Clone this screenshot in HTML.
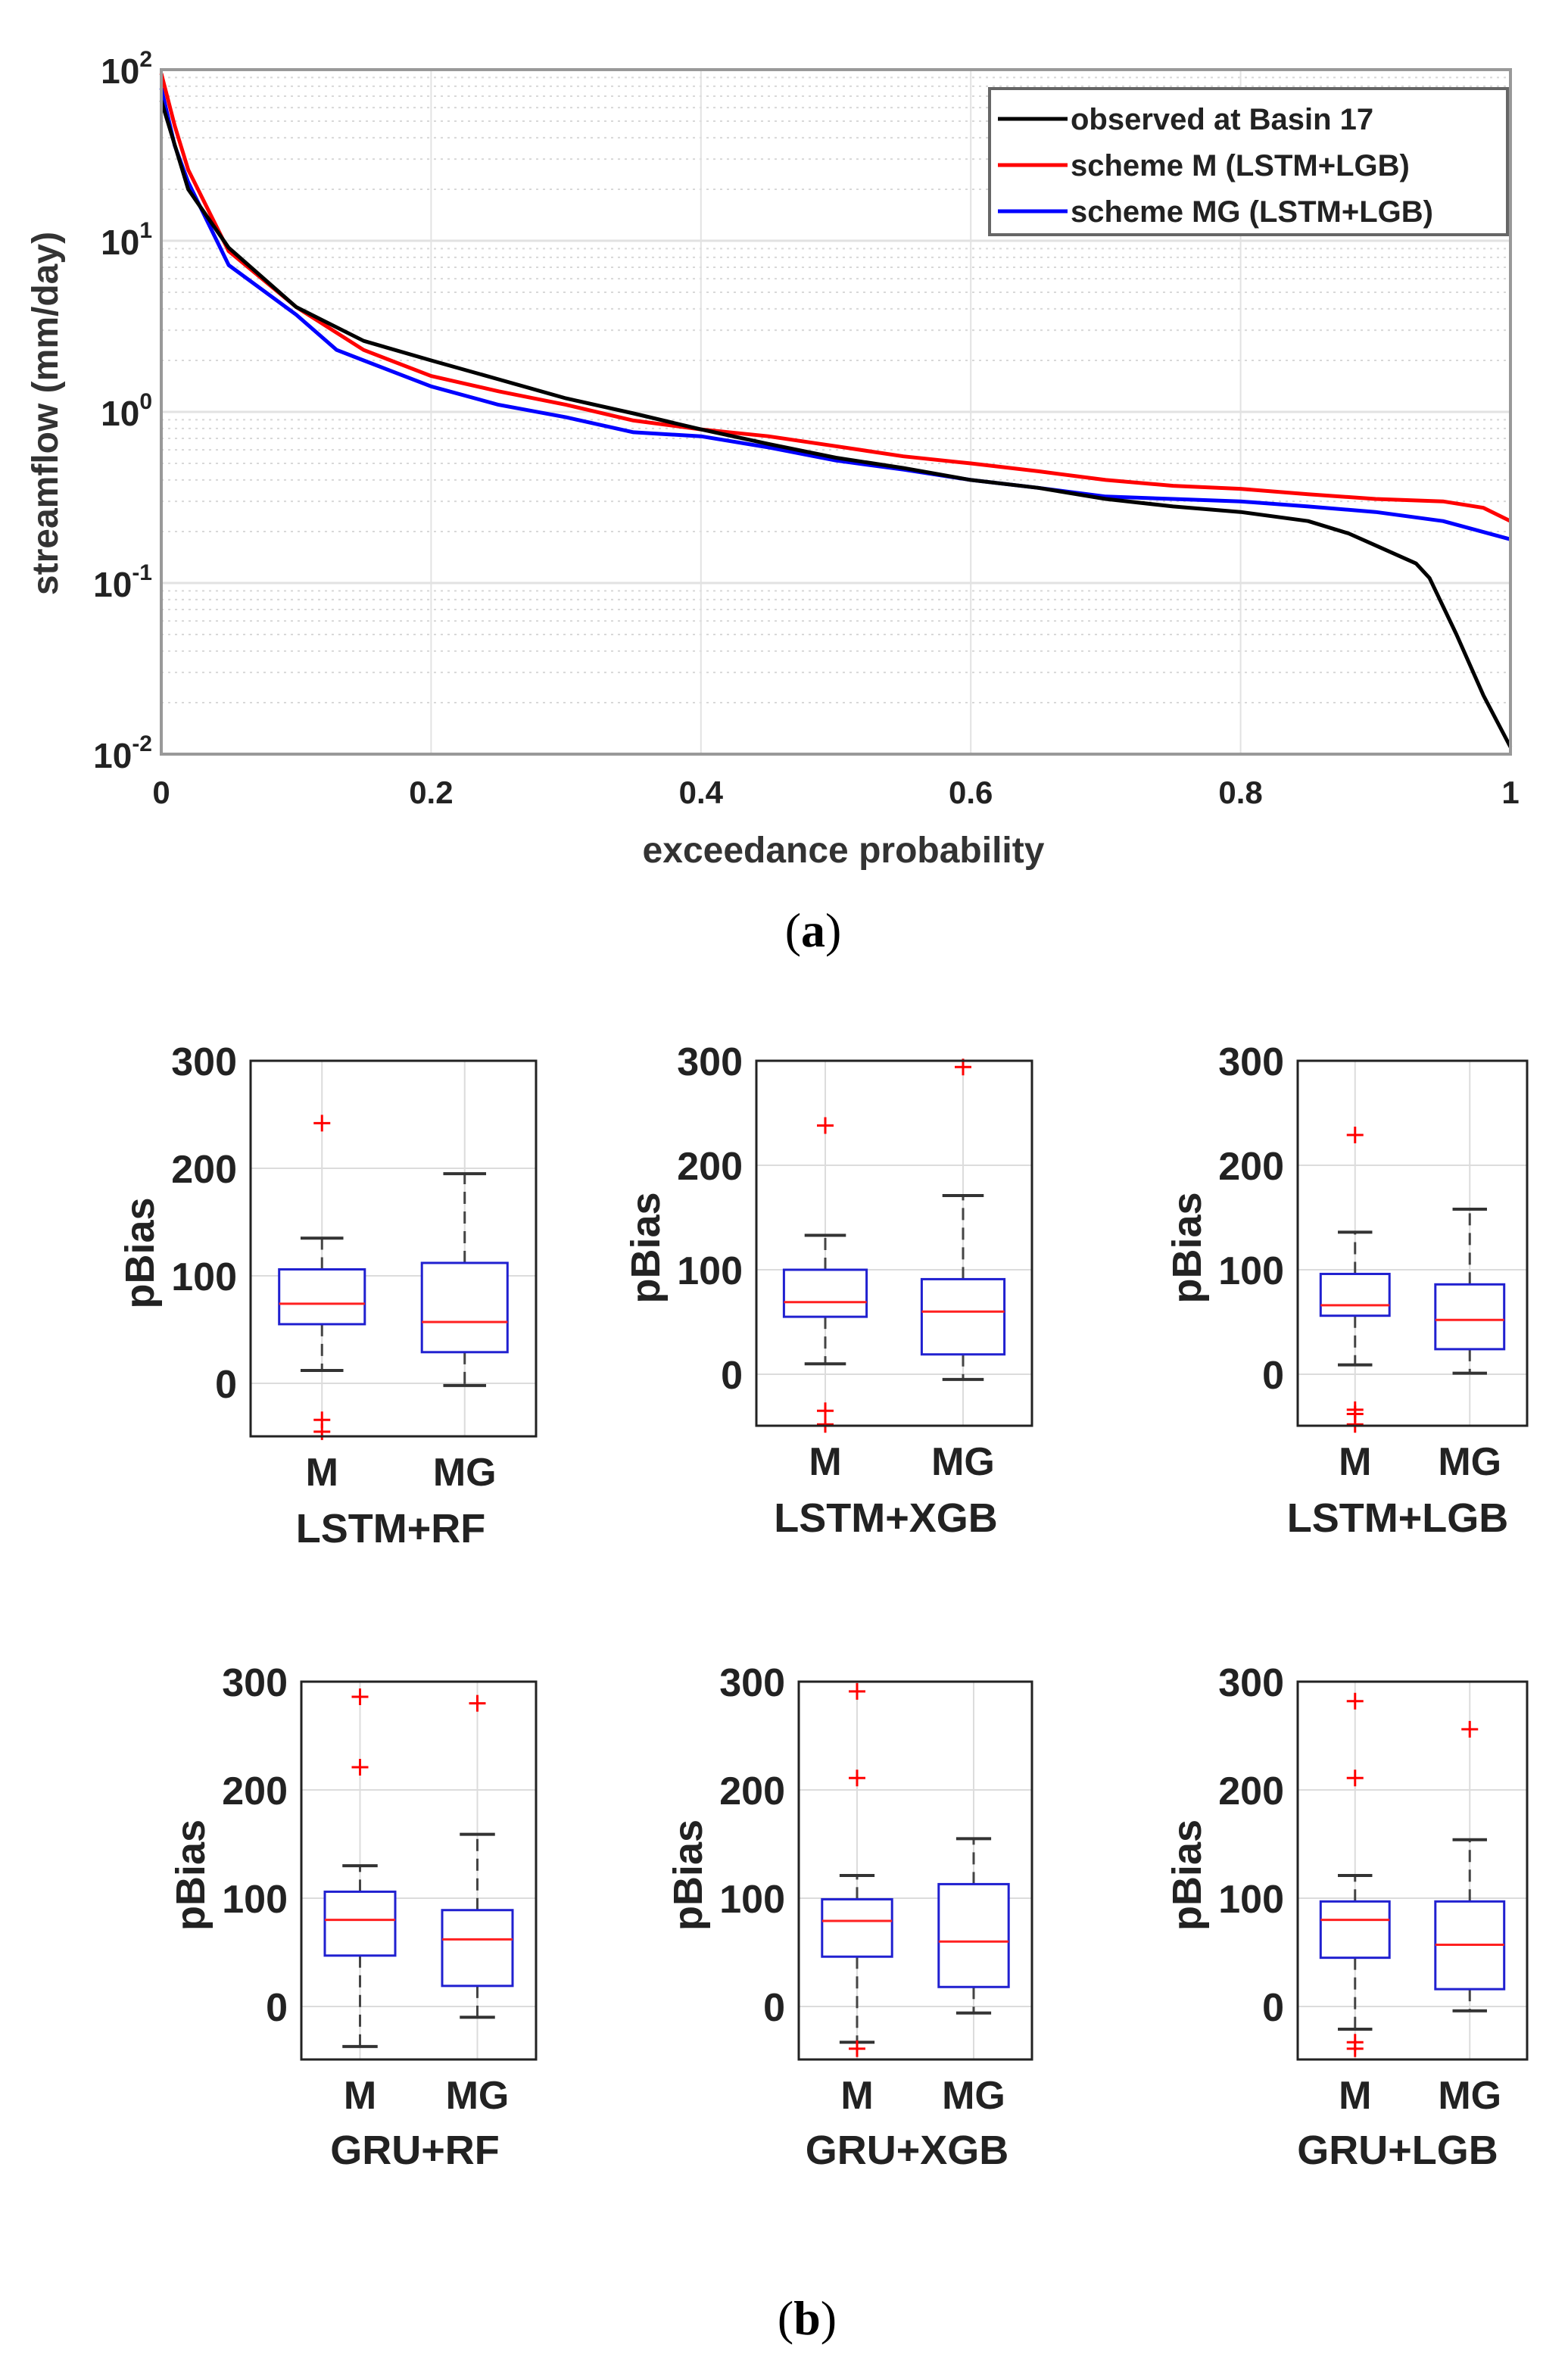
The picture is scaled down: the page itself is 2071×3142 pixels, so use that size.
<!DOCTYPE html>
<html><head><meta charset="utf-8"><style>
html,body{margin:0;padding:0;background:#fff;}
svg{display:block;font-family:"Liberation Sans",Arial,sans-serif;}
</style></head><body>
<svg id="fig" width="2071" height="3142" viewBox="0 0 2071 3142" xmlns="http://www.w3.org/2000/svg">
<rect width="2071" height="3142" fill="#fff"/>
<g id="top"></g>
<g id="boxes"></g>
<text x="1074" y="1250" font-family="'Liberation Serif',serif" font-size="64" text-anchor="middle">(<tspan font-weight="bold">a</tspan>)</text>
<text x="1066" y="3083" font-family="'Liberation Serif',serif" font-size="64" text-anchor="middle">(<tspan font-weight="bold">b</tspan>)</text>
</svg>
<script>
// ---- Panel (a) data ----
const obsX = [0,0.02,0.05,0.1,0.15,0.2,0.25,0.3,0.35,0.4,0.45,0.5,0.55,0.6,0.65,0.7,0.75,0.8,0.85,0.88,0.9,0.93,0.94,0.96,0.98,1.0];
const obsY = [66,20,9.1,4.1,2.6,2.0,1.55,1.2,0.98,0.79,0.65,0.54,0.47,0.40,0.36,0.31,0.28,0.26,0.23,0.195,0.166,0.13,0.107,0.05,0.022,0.011];
const mX = [0,0.01,0.02,0.05,0.1,0.15,0.2,0.25,0.3,0.35,0.4,0.45,0.5,0.55,0.6,0.65,0.7,0.75,0.8,0.85,0.9,0.95,0.98,1.0];
const mY = [95,47,26,8.7,4.1,2.3,1.62,1.32,1.1,0.89,0.79,0.72,0.63,0.55,0.50,0.45,0.40,0.37,0.355,0.33,0.31,0.30,0.275,0.23];
const mgX = [0,0.01,0.02,0.05,0.1,0.13,0.15,0.2,0.25,0.3,0.35,0.4,0.45,0.5,0.55,0.6,0.65,0.7,0.75,0.8,0.85,0.9,0.95,1.0];
const mgY = [78,36,22,7.2,3.7,2.3,2.0,1.41,1.1,0.93,0.76,0.72,0.62,0.52,0.46,0.40,0.36,0.32,0.31,0.30,0.28,0.26,0.23,0.18];
const xTicks = [0,0.2,0.4,0.6,0.8,1];
const xTickLabels = ["0","0.2","0.4","0.6","0.8","1"];
const yExps = [2,1,0,-1,-2];
const legendLabels = ["observed at Basin 17","scheme M (LSTM+LGB)","scheme MG (LSTM+LGB)"];

// ---- Panel (b) data ----
const groupNames = ["LSTM+RF","LSTM+XGB","LSTM+LGB","GRU+RF","GRU+XGB","GRU+LGB"];
const catNames = ["M","MG"];
const bpTicks = [0,100,200,300];
// each: [whiskerLow, q1, median, q3, whiskerHigh]
const statsM = [[12,55,74,106,135],[10,55,69,100,133],[9,56,66,96,136],[-37,47,80,106,130],[-33,46,79,99,121],[-21,45,80,97,121]];
const statsMG = [[-2,29,57,112,195],[-5,19,60,91,171],[1,24,52,86,158],[-10,19,62,89,159],[-6,18,60,113,155],[-4,16,57,97,154]];
const outM = [[242,-34,-45],[238,-35,-48],[229,-34,-38,-48],[286,221],[291,211,-39],[282,211,-33,-39]];
const outMG = [[],[294],[],[280],[],[256]];

const NS = "http://www.w3.org/2000/svg";
function mk(tag, attrs, parent){const e=document.createElementNS(NS,tag);for(const k in attrs)e.setAttribute(k,attrs[k]);parent.appendChild(e);return e;}

// ---- draw panel (a) ----
(function(){
  const g=document.getElementById('top');
  const L=213,R=1995,T=92,B=996;
  const sx=v=>L+v*(R-L);
  const sy=v=>T+(2-Math.log10(v))*(B-T)/4;
  for(let e=-2;e<2;e++){for(let m=2;m<=9;m++){const y=sy(m*Math.pow(10,e));
    const ln=mk('line',{x1:L,x2:R,y1:y,y2:y,stroke:'#d8d8d8','stroke-width':2,'stroke-dasharray':'3,6'},g);
    
    }}
  yExps.forEach(e=>{const y=sy(Math.pow(10,e));
    const ln=mk('line',{x1:L,x2:R,y1:y,y2:y,stroke:'#e2e2e2','stroke-width':3},g);
    
    
    const t=mk('text',{x:L-12,y:y+18,'font-size':46,'font-weight':'bold','text-anchor':'end',fill:'#222'},g);
    
    
    t.textContent='10';
    const s=mk('tspan',{dy:-22,'font-size':30},t); s.textContent=String(e);
  });
  xTicks.forEach((v,i)=>{const x=sx(v);
    const ln=mk('line',{x1:x,x2:x,y1:T,y2:B,stroke:'#e2e2e2','stroke-width':2},g);
    
    
    const t=mk('text',{x:x,y:1061,'font-size':42,'font-weight':'bold','text-anchor':'middle',fill:'#222'},g);
    
    
    t.textContent=xTickLabels[i];
  });
  const series=[[obsX,obsY,'#000','observed-line'],[mX,mY,'#ff0000','scheme-m-line'],[mgX,mgY,'#0000ff','scheme-mg-line']];
  [series[2],series[1],series[0]].forEach(s=>{
    const d=s[0].map((v,i)=>(i?'L':'M')+sx(v).toFixed(1)+','+sy(s[1][i]).toFixed(1)).join(' ');
    const p=mk('path',{d:d,fill:'none',stroke:s[2],'stroke-width':5,'stroke-linejoin':'round'},g);
    
    
  });
  const ax=mk('rect',{x:L,y:T,width:R-L,height:B-T,fill:'none',stroke:'#999','stroke-width':4},g);
  
  
  const lg=mk('rect',{x:1307,y:117,width:684,height:193,fill:'#fff',stroke:'#666','stroke-width':4},g);
  
  
  const cols=['#000','#ff0000','#0000ff'];
  legendLabels.forEach((lab,i)=>{const y=157+i*61;
    const ln=mk('line',{x1:1318,x2:1410,y1:y,y2:y,stroke:cols[i],'stroke-width':5},g);
    
    
    const t=mk('text',{x:1414,y:y+14,'font-size':40,'font-weight':'bold',fill:'#222'},g);
    
    
    t.textContent=lab;
  });
  const xl=mk('text',{x:1114,y:1139,'font-size':48,'font-weight':'bold','text-anchor':'middle',fill:'#333'},g);
  
  
  xl.textContent='exceedance probability';
  const yl=mk('text',{x:0,y:0,'font-size':48,'font-weight':'bold','text-anchor':'middle',fill:'#333',transform:'translate(76,546) rotate(-90)'},g);
  
  
  yl.textContent='streamflow (mm/day)';
})();

// ---- draw panel (b) ----
(function(){
  const g=document.getElementById('boxes');
  const lay=[
    [331,708,1401,1827,1897,1943,2018,516],
    [999,1363,1401,1815,1883,1929,2004,1170],
    [1714,2017,1401,1815,1883,1929,2004,1846],
    [398,708,2221,2650,2720,2766,2839,548],
    [1055,1363,2221,2650,2720,2766,2839,1198],
    [1714,2017,2221,2650,2720,2766,2839,1846]];
  groupNames.forEach((name,pi)=>{
    const [L,R,T,Z,B,cy,gy,gx]=lay[pi];
    const per=(Z-T)/300;
    const sy=v=>Z-v*per;
    const cx=[L+0.25*(R-L),L+0.75*(R-L)];
    const pg=mk('g',{},g);
    
    
    bpTicks.forEach(v=>{const y=sy(v);
      const ln=mk('line',{x1:L,x2:R,y1:y,y2:y,stroke:'#dcdcdc','stroke-width':2},pg);
      
      
      const t=mk('text',{x:L-18,y:y+19,'font-size':52,'font-weight':'bold','text-anchor':'end',fill:'#222'},pg);
      
      
      t.textContent=v;
    });
    cx.forEach((x,ci)=>{
      const ln=mk('line',{x1:x,x2:x,y1:T,y2:B,stroke:'#dcdcdc','stroke-width':2},pg);
      
      
      const t=mk('text',{x:x,y:cy+19,'font-size':52,'font-weight':'bold','text-anchor':'middle',fill:'#222'},pg);
      
      
      t.textContent=catNames[ci];
    });
    const stats=[statsM[pi],statsMG[pi]], outs=[outM[pi],outMG[pi]];
    const bw=(R-L)*0.15;
    stats.forEach((s,ci)=>{const x=cx[ci];
      const w1=mk('line',{x1:x,x2:x,y1:sy(s[3]),y2:sy(s[4]),stroke:'#444','stroke-width':3,'stroke-dasharray':'16,10'},pg);
      
      
      const w2=mk('line',{x1:x,x2:x,y1:sy(s[1]),y2:sy(s[0]),stroke:'#444','stroke-width':3,'stroke-dasharray':'16,10'},pg);
      
      
      [s[0],s[4]].forEach(v=>{
        const c=mk('line',{x1:x-bw/2,x2:x+bw/2,y1:sy(v),y2:sy(v),stroke:'#333','stroke-width':4},pg);
        
        
      });
      const bx=mk('rect',{x:x-bw,y:sy(s[3]),width:bw*2,height:sy(s[1])-sy(s[3]),fill:'#fff',stroke:'#2020d0','stroke-width':3},pg);
      
      
      const md=mk('line',{x1:x-bw,x2:x+bw,y1:sy(s[2]),y2:sy(s[2]),stroke:'#ff2020','stroke-width':3},pg);
      
      
      outs[ci].forEach(v=>{const y=sy(v);
        const o=mk('path',{d:`M${x-11},${y}H${x+11}M${x},${y-11}V${y+11}`,stroke:'#ff0000','stroke-width':3,fill:'none'},pg);
        
        
      });
    });
    const fr=mk('rect',{x:L,y:T,width:R-L,height:B-T,fill:'none',stroke:'#222','stroke-width':3},pg);
    
    
    const yl=mk('text',{x:0,y:0,'font-size':54,'font-weight':'bold','text-anchor':'middle',fill:'#222',transform:`translate(${L-128},${(T+B)/2+6}) rotate(-90)`},pg);
    
    
    yl.textContent='pBias';
    const gl=mk('text',{x:gx,y:gy+19,'font-size':54,'font-weight':'bold','text-anchor':'middle',fill:'#222'},pg);
    
    
    gl.textContent=name;
  });
})();
</script>
</body></html>
